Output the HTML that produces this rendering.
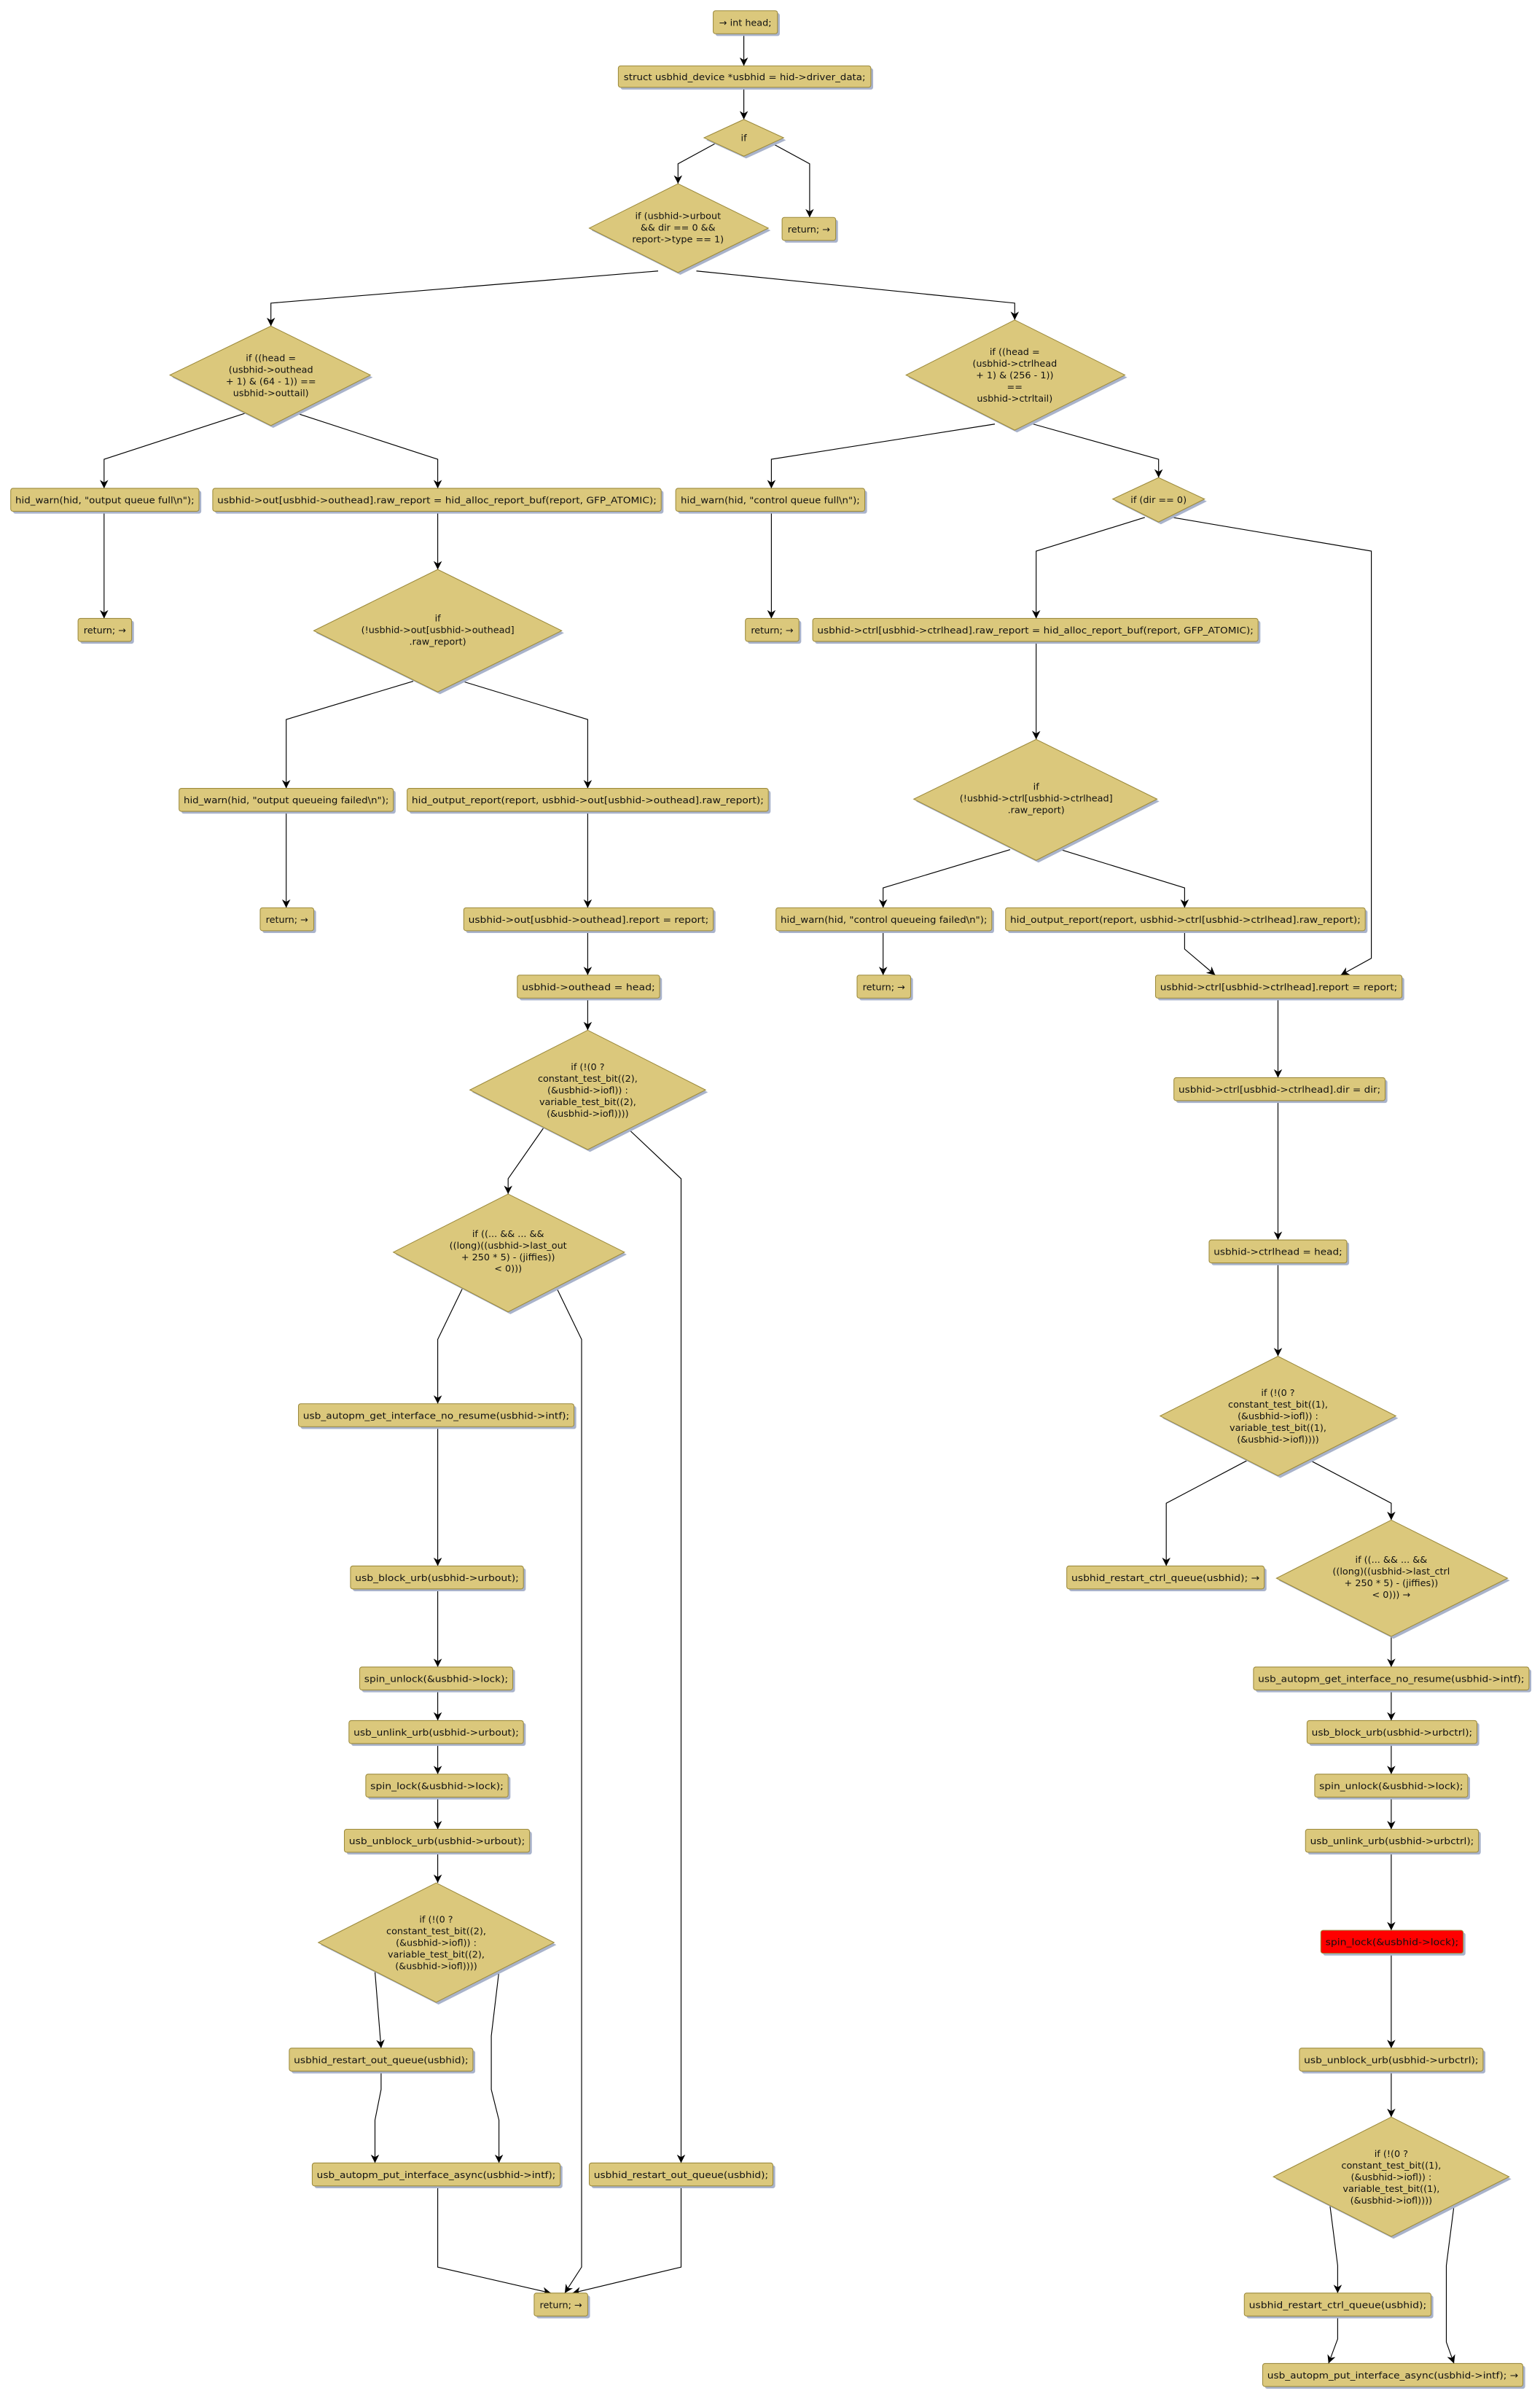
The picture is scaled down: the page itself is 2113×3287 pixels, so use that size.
<!DOCTYPE html>
<html><head><meta charset="utf-8"><style>
html,body{margin:0;padding:0;background:#fff;}
svg{display:block;}
text{font-family:"DejaVu Sans","Liberation Sans",sans-serif;font-size:6.1px;fill:#111;text-anchor:middle;}
.b{fill:#dbc87c;stroke:#9c8a3c;stroke-width:0.5;}
.r{fill:#ff0000;stroke:#9c8a3c;stroke-width:0.5;}
.s{fill:#a9b3cb;}
.e{fill:none;stroke:#000;stroke-width:0.55;marker-end:url(#a);}
</style></head><body>
<svg width="2113" height="3287" viewBox="0 0 1006.2 1565.2" xmlns="http://www.w3.org/2000/svg">
<defs><marker id="a" viewBox="0 0 10 10" refX="10" refY="5" markerWidth="5.5" markerHeight="5.5" markerUnits="userSpaceOnUse" orient="auto"><path d="M0,0 L10,5 L0,10 L3,5 z" fill="#000"/></marker></defs>

<path class="e" d="M486,22 L486,43"/>
<path class="e" d="M486,57 L486,78"/>
<path class="e" d="M476,89 L443,107 L443,120"/>
<path class="e" d="M496,89 L529,107 L529,142"/>
<path class="e" d="M430,177 L177,198 L177,213"/>
<path class="e" d="M455,177 L663,198 L663,209"/>
<path class="e" d="M160,270 L68,300 L68,319"/>
<path class="e" d="M194,270 L286,300 L286,319"/>
<path class="e" d="M650,277 L504,300 L504,319"/>
<path class="e" d="M675,277 L757,300 L757,312"/>
<path class="e" d="M68,334 L68,404"/>
<path class="e" d="M286,334 L286,372"/>
<path class="e" d="M504,334 L504,404"/>
<path class="e" d="M748,338 L677,360 L677,404"/>
<path class="e" d="M766,338 L896,360 L896,626 L876,637"/>
<path class="e" d="M270,445 L187,470 L187,515"/>
<path class="e" d="M302,445 L384,470 L384,515"/>
<path class="e" d="M677,419 L677,483"/>
<path class="e" d="M187,530 L187,593"/>
<path class="e" d="M384,530 L384,593"/>
<path class="e" d="M660,555 L577,580 L577,593"/>
<path class="e" d="M693,555 L774,580 L774,593"/>
<path class="e" d="M577,608 L577,637"/>
<path class="e" d="M384,608 L384,637"/>
<path class="e" d="M774,608 L774,620 L794,637"/>
<path class="e" d="M384,652 L384,673"/>
<path class="e" d="M835,652 L835,704"/>
<path class="e" d="M355,737 L332,770 L332,780"/>
<path class="e" d="M410,737 L445,770 L445,1413"/>
<path class="e" d="M302,842 L286,875 L286,917"/>
<path class="e" d="M364,842 L380,875 L380,1481 L369,1498"/>
<path class="e" d="M835,719 L835,810"/>
<path class="e" d="M835,825 L835,886"/>
<path class="e" d="M286,932 L286,1023"/>
<path class="e" d="M815,954 L762,982 L762,1023"/>
<path class="e" d="M856,954 L909,982 L909,993"/>
<path class="e" d="M909,1069 L909,1089"/>
<path class="e" d="M286,1038 L286,1089"/>
<path class="e" d="M909,1104 L909,1124"/>
<path class="e" d="M286,1104 L286,1124"/>
<path class="e" d="M909,1139 L909,1159"/>
<path class="e" d="M286,1139 L286,1159"/>
<path class="e" d="M909,1174 L909,1195"/>
<path class="e" d="M286,1174 L286,1195"/>
<path class="e" d="M909,1210 L909,1261"/>
<path class="e" d="M286,1210 L286,1230"/>
<path class="e" d="M245,1288 L249,1338"/>
<path class="e" d="M326,1288 L321,1330 L321,1365 L326,1385 L326,1413"/>
<path class="e" d="M909,1276 L909,1338"/>
<path class="e" d="M249,1353 L249,1365 L245,1385 L245,1413"/>
<path class="e" d="M909,1353 L909,1383"/>
<path class="e" d="M869,1441 L874,1480 L874,1498"/>
<path class="e" d="M950,1441 L945,1480 L945,1530 L950,1544"/>
<path class="e" d="M286,1428 L286,1481 L360,1498"/>
<path class="e" d="M445,1428 L445,1481 L374,1498"/>
<path class="e" d="M874,1514 L874,1528 L868,1544"/>

<g>
<rect class="s" x="467.5" y="8.5" width="42" height="15" rx="1.5"/><rect class="b" x="466" y="7" width="42" height="15" rx="1.5"/><text x="487" y="16.8">→ int head;</text>
<rect class="s" x="405.5" y="44.5" width="165" height="14" rx="1.5"/><rect class="b" x="404" y="43" width="165" height="14" rx="1.5"/><text x="486.5" y="52.3" textLength="158" lengthAdjust="spacingAndGlyphs">struct usbhid_device *usbhid = hid-&gt;driver_data;</text>
<rect class="s" x="512.5" y="143.5" width="35" height="15" rx="1.5"/><rect class="b" x="511" y="142" width="35" height="15" rx="1.5"/><text x="528.5" y="151.8">return; →</text>
<rect class="s" x="8.5" y="320.5" width="123" height="15" rx="1.5"/><rect class="b" x="7" y="319" width="123" height="15" rx="1.5"/><text x="68.5" y="328.8" textLength="117" lengthAdjust="spacingAndGlyphs">hid_warn(hid, "output queue full\n");</text>
<rect class="s" x="140.5" y="320.5" width="293" height="15" rx="1.5"/><rect class="b" x="139" y="319" width="293" height="15" rx="1.5"/><text x="285.5" y="328.8" textLength="287" lengthAdjust="spacingAndGlyphs">usbhid-&gt;out[usbhid-&gt;outhead].raw_report = hid_alloc_report_buf(report, GFP_ATOMIC);</text>
<rect class="s" x="443" y="320.5" width="123.5" height="15" rx="1.5"/><rect class="b" x="441.5" y="319" width="123.5" height="15" rx="1.5"/><text x="503.3" y="328.8" textLength="117" lengthAdjust="spacingAndGlyphs">hid_warn(hid, "control queue full\n");</text>
<rect class="s" x="52.5" y="405.5" width="35" height="15" rx="1.5"/><rect class="b" x="51" y="404" width="35" height="15" rx="1.5"/><text x="68.5" y="413.8">return; →</text>
<rect class="s" x="488.5" y="405.5" width="35" height="15" rx="1.5"/><rect class="b" x="487" y="404" width="35" height="15" rx="1.5"/><text x="504.5" y="413.8">return; →</text>
<rect class="s" x="532.5" y="405.5" width="291" height="15" rx="1.5"/><rect class="b" x="531" y="404" width="291" height="15" rx="1.5"/><text x="676.5" y="413.8" textLength="285" lengthAdjust="spacingAndGlyphs">usbhid-&gt;ctrl[usbhid-&gt;ctrlhead].raw_report = hid_alloc_report_buf(report, GFP_ATOMIC);</text>
<rect class="s" x="118.5" y="516.5" width="140" height="15" rx="1.5"/><rect class="b" x="117" y="515" width="140" height="15" rx="1.5"/><text x="187" y="524.8" textLength="134" lengthAdjust="spacingAndGlyphs">hid_warn(hid, "output queueing failed\n");</text>
<rect class="s" x="267.5" y="516.5" width="236" height="15" rx="1.5"/><rect class="b" x="266" y="515" width="236" height="15" rx="1.5"/><text x="384" y="524.8" textLength="230" lengthAdjust="spacingAndGlyphs">hid_output_report(report, usbhid-&gt;out[usbhid-&gt;outhead].raw_report);</text>
<rect class="s" x="171.5" y="594.5" width="35" height="15" rx="1.5"/><rect class="b" x="170" y="593" width="35" height="15" rx="1.5"/><text x="187.5" y="602.8">return; →</text>
<rect class="s" x="304.5" y="594.5" width="163" height="15" rx="1.5"/><rect class="b" x="303" y="593" width="163" height="15" rx="1.5"/><text x="384.5" y="602.8" textLength="157" lengthAdjust="spacingAndGlyphs">usbhid-&gt;out[usbhid-&gt;outhead].report = report;</text>
<rect class="s" x="508.5" y="594.5" width="141" height="15" rx="1.5"/><rect class="b" x="507" y="593" width="141" height="15" rx="1.5"/><text x="577.5" y="602.8" textLength="135" lengthAdjust="spacingAndGlyphs">hid_warn(hid, "control queueing failed\n");</text>
<rect class="s" x="658.5" y="594.5" width="235" height="15" rx="1.5"/><rect class="b" x="657" y="593" width="235" height="15" rx="1.5"/><text x="774.5" y="602.8" textLength="229" lengthAdjust="spacingAndGlyphs">hid_output_report(report, usbhid-&gt;ctrl[usbhid-&gt;ctrlhead].raw_report);</text>
<rect class="s" x="561.5" y="638.5" width="35" height="15" rx="1.5"/><rect class="b" x="560" y="637" width="35" height="15" rx="1.5"/><text x="577.5" y="646.8">return; →</text>
<rect class="s" x="339.5" y="638.5" width="93" height="15" rx="1.5"/><rect class="b" x="338" y="637" width="93" height="15" rx="1.5"/><text x="384.5" y="646.8" textLength="87" lengthAdjust="spacingAndGlyphs">usbhid-&gt;outhead = head;</text>
<rect class="s" x="756.5" y="638.5" width="161" height="15" rx="1.5"/><rect class="b" x="755" y="637" width="161" height="15" rx="1.5"/><text x="835.5" y="646.8" textLength="155" lengthAdjust="spacingAndGlyphs">usbhid-&gt;ctrl[usbhid-&gt;ctrlhead].report = report;</text>
<rect class="s" x="768.5" y="705.5" width="138" height="15" rx="1.5"/><rect class="b" x="767" y="704" width="138" height="15" rx="1.5"/><text x="836" y="713.8" textLength="132" lengthAdjust="spacingAndGlyphs">usbhid-&gt;ctrl[usbhid-&gt;ctrlhead].dir = dir;</text>
<rect class="s" x="791.5" y="811.5" width="90" height="15" rx="1.5"/><rect class="b" x="790" y="810" width="90" height="15" rx="1.5"/><text x="835" y="819.8" textLength="84" lengthAdjust="spacingAndGlyphs">usbhid-&gt;ctrlhead = head;</text>
<rect class="s" x="196.5" y="918.5" width="180" height="15" rx="1.5"/><rect class="b" x="195" y="917" width="180" height="15" rx="1.5"/><text x="285" y="926.8" textLength="174" lengthAdjust="spacingAndGlyphs">usb_autopm_get_interface_no_resume(usbhid-&gt;intf);</text>
<rect class="s" x="698.5" y="1024.5" width="129" height="15" rx="1.5"/><rect class="b" x="697" y="1023" width="129" height="15" rx="1.5"/><text x="761.5" y="1032.8" textLength="123" lengthAdjust="spacingAndGlyphs">usbhid_restart_ctrl_queue(usbhid); →</text>
<rect class="s" x="230.5" y="1024.5" width="113" height="15" rx="1.5"/><rect class="b" x="229" y="1023" width="113" height="15" rx="1.5"/><text x="285.5" y="1032.8" textLength="107" lengthAdjust="spacingAndGlyphs">usb_block_urb(usbhid-&gt;urbout);</text>
<rect class="s" x="820.5" y="1090.5" width="180" height="15" rx="1.5"/><rect class="b" x="819" y="1089" width="180" height="15" rx="1.5"/><text x="909" y="1098.8" textLength="174" lengthAdjust="spacingAndGlyphs">usb_autopm_get_interface_no_resume(usbhid-&gt;intf);</text>
<rect class="s" x="236.5" y="1090.5" width="100" height="15" rx="1.5"/><rect class="b" x="235" y="1089" width="100" height="15" rx="1.5"/><text x="285" y="1098.8" textLength="94" lengthAdjust="spacingAndGlyphs">spin_unlock(&amp;usbhid-&gt;lock);</text>
<rect class="s" x="229.5" y="1125.5" width="114" height="15" rx="1.5"/><rect class="b" x="228" y="1124" width="114" height="15" rx="1.5"/><text x="285" y="1133.8" textLength="108" lengthAdjust="spacingAndGlyphs">usb_unlink_urb(usbhid-&gt;urbout);</text>
<rect class="s" x="855.5" y="1125.5" width="111" height="15" rx="1.5"/><rect class="b" x="854" y="1124" width="111" height="15" rx="1.5"/><text x="909.5" y="1133.8" textLength="105" lengthAdjust="spacingAndGlyphs">usb_block_urb(usbhid-&gt;urbctrl);</text>
<rect class="s" x="240.5" y="1160.5" width="93" height="15" rx="1.5"/><rect class="b" x="239" y="1159" width="93" height="15" rx="1.5"/><text x="285.5" y="1168.8" textLength="87" lengthAdjust="spacingAndGlyphs">spin_lock(&amp;usbhid-&gt;lock);</text>
<rect class="s" x="860.5" y="1160.5" width="100" height="15" rx="1.5"/><rect class="b" x="859" y="1159" width="100" height="15" rx="1.5"/><text x="909" y="1168.8" textLength="94" lengthAdjust="spacingAndGlyphs">spin_unlock(&amp;usbhid-&gt;lock);</text>
<rect class="s" x="226.5" y="1196.5" width="121" height="15" rx="1.5"/><rect class="b" x="225" y="1195" width="121" height="15" rx="1.5"/><text x="285.5" y="1204.8" textLength="115" lengthAdjust="spacingAndGlyphs">usb_unblock_urb(usbhid-&gt;urbout);</text>
<rect class="s" x="854.5" y="1196.5" width="113" height="15" rx="1.5"/><rect class="b" x="853" y="1195" width="113" height="15" rx="1.5"/><text x="909.5" y="1204.8" textLength="107" lengthAdjust="spacingAndGlyphs">usb_unlink_urb(usbhid-&gt;urbctrl);</text>
<rect class="s" x="864.5" y="1262.5" width="93" height="15" rx="1.5"/><rect class="r" x="863" y="1261" width="93" height="15" rx="1.5"/><text x="909.5" y="1270.8" textLength="87" lengthAdjust="spacingAndGlyphs">spin_lock(&amp;usbhid-&gt;lock);</text>
<rect class="s" x="190.5" y="1339.5" width="120" height="15" rx="1.5"/><rect class="b" x="189" y="1338" width="120" height="15" rx="1.5"/><text x="249" y="1347.8" textLength="114" lengthAdjust="spacingAndGlyphs">usbhid_restart_out_queue(usbhid);</text>
<rect class="s" x="850.5" y="1339.5" width="120" height="15" rx="1.5"/><rect class="b" x="849" y="1338" width="120" height="15" rx="1.5"/><text x="909" y="1347.8" textLength="114" lengthAdjust="spacingAndGlyphs">usb_unblock_urb(usbhid-&gt;urbctrl);</text>
<rect class="s" x="205.5" y="1414.5" width="162" height="15" rx="1.5"/><rect class="b" x="204" y="1413" width="162" height="15" rx="1.5"/><text x="285" y="1422.8" textLength="156" lengthAdjust="spacingAndGlyphs">usb_autopm_put_interface_async(usbhid-&gt;intf);</text>
<rect class="s" x="386.5" y="1414.5" width="120" height="15" rx="1.5"/><rect class="b" x="385" y="1413" width="120" height="15" rx="1.5"/><text x="445" y="1422.8" textLength="114" lengthAdjust="spacingAndGlyphs">usbhid_restart_out_queue(usbhid);</text>
<rect class="s" x="350.5" y="1499.5" width="35" height="15" rx="1.5"/><rect class="b" x="349" y="1498" width="35" height="15" rx="1.5"/><text x="366.5" y="1507.8">return; →</text>
<rect class="s" x="814.5" y="1499.5" width="122" height="15" rx="1.5"/><rect class="b" x="813" y="1498" width="122" height="15" rx="1.5"/><text x="874" y="1507.8" textLength="116" lengthAdjust="spacingAndGlyphs">usbhid_restart_ctrl_queue(usbhid);</text>
<rect class="s" x="826.5" y="1545.5" width="170" height="15" rx="1.5"/><rect class="b" x="825" y="1544" width="170" height="15" rx="1.5"/><text x="910" y="1553.8" textLength="164" lengthAdjust="spacingAndGlyphs">usb_autopm_put_interface_async(usbhid-&gt;intf); →</text>
</g>

<g>
<polygon class="s" points="487.5,79.5 513.5,91.5 487.5,103.5 461.5,91.5"/><polygon class="b" points="486,78 512,90 486,102 460,90"/><text x="486" y="92.2">if</text>

<polygon class="s" points="444.5,121.5 503.5,150.5 444.5,179.5 386.5,150.5"/><polygon class="b" points="443,120 502,149 443,178 385,149"/>
<text x="443" y="143">if (usbhid-&gt;urbout</text><text x="443" y="150.6">&amp;&amp; dir == 0 &amp;&amp;</text><text x="443" y="158.2">report-&gt;type == 1)</text>

<polygon class="s" points="178.5,214.5 243.5,246.5 178.5,279.5 112.5,246.5"/><polygon class="b" points="177,213 242,245 177,278 111,245"/>
<text x="177" y="236">if ((head =</text><text x="177" y="243.6">(usbhid-&gt;outhead</text><text x="177" y="251.2">+ 1) &amp; (64 - 1)) ==</text><text x="177" y="258.8">usbhid-&gt;outtail)</text>

<polygon class="s" points="664.5,210.5 736.5,246.5 664.5,282.5 593.5,246.5"/><polygon class="b" points="663,209 735,245 663,281 592,245"/>
<text x="663" y="232">if ((head =</text><text x="663" y="239.6">(usbhid-&gt;ctrlhead</text><text x="663" y="247.2">+ 1) &amp; (256 - 1))</text><text x="663" y="254.8">==</text><text x="663" y="262.4">usbhid-&gt;ctrltail)</text>

<polygon class="s" points="758.5,313.5 788.5,327.5 758.5,342.5 728.5,327.5"/><polygon class="b" points="757,312 787,326 757,341 727,326"/><text x="757" y="328.5">if (dir == 0)</text>

<polygon class="s" points="287.5,373.5 368.5,413.5 287.5,453.5 206.5,413.5"/><polygon class="b" points="286,372 367,412 286,452 205,412"/>
<text x="286" y="406">if</text><text x="286" y="413.6">(!usbhid-&gt;out[usbhid-&gt;outhead]</text><text x="286" y="421.2">.raw_report)</text>

<polygon class="s" points="678.5,484.5 757.5,523.5 678.5,563.5 598.5,523.5"/><polygon class="b" points="677,483 756,522 677,562 597,522"/>
<text x="677" y="516">if</text><text x="677" y="523.6">(!usbhid-&gt;ctrl[usbhid-&gt;ctrlhead]</text><text x="677" y="531.2">.raw_report)</text>

<polygon class="s" points="385.5,674.5 462.5,713.5 385.5,752.5 308.5,713.5"/><polygon class="b" points="384,673 461,712 384,751 307,712"/>
<text x="384" y="699">if (!(0 ?</text><text x="384" y="706.6">constant_test_bit((2),</text><text x="384" y="714.2">(&amp;usbhid-&gt;iofl)) :</text><text x="384" y="721.8">variable_test_bit((2),</text><text x="384" y="729.4">(&amp;usbhid-&gt;iofl))))</text>

<polygon class="s" points="333.5,781.5 409.5,819.5 333.5,858.5 258.5,819.5"/><polygon class="b" points="332,780 408,818 332,857 257,818"/>
<text x="332" y="808">if ((... &amp;&amp; ... &amp;&amp;</text><text x="332" y="815.6">((long)((usbhid-&gt;last_out</text><text x="332" y="823.2">+ 250 * 5) - (jiffies))</text><text x="332" y="830.8">&lt; 0)))</text>

<polygon class="s" points="836.5,887.5 913.5,926.5 836.5,965.5 759.5,926.5"/><polygon class="b" points="835,886 912,925 835,964 758,925"/>
<text x="835" y="912">if (!(0 ?</text><text x="835" y="919.6">constant_test_bit((1),</text><text x="835" y="927.2">(&amp;usbhid-&gt;iofl)) :</text><text x="835" y="934.8">variable_test_bit((1),</text><text x="835" y="942.4">(&amp;usbhid-&gt;iofl))))</text>

<polygon class="s" points="910.5,994.5 986.5,1032.5 910.5,1070.5 835.5,1032.5"/><polygon class="b" points="909,993 985,1031 909,1069 834,1031"/>
<text x="909" y="1021">if ((... &amp;&amp; ... &amp;&amp;</text><text x="909" y="1028.6">((long)((usbhid-&gt;last_ctrl</text><text x="909" y="1036.2">+ 250 * 5) - (jiffies))</text><text x="909" y="1043.8">&lt; 0))) →</text>

<polygon class="s" points="286.5,1231.5 363.5,1270.5 286.5,1309.5 209.5,1270.5"/><polygon class="b" points="285,1230 362,1269 285,1308 208,1269"/>
<text x="285" y="1256">if (!(0 ?</text><text x="285" y="1263.6">constant_test_bit((2),</text><text x="285" y="1271.2">(&amp;usbhid-&gt;iofl)) :</text><text x="285" y="1278.8">variable_test_bit((2),</text><text x="285" y="1286.4">(&amp;usbhid-&gt;iofl))))</text>

<polygon class="s" points="910.5,1384.5 987.5,1423.5 910.5,1462.5 833.5,1423.5"/><polygon class="b" points="909,1383 986,1422 909,1461 832,1422"/>
<text x="909" y="1409">if (!(0 ?</text><text x="909" y="1416.6">constant_test_bit((1),</text><text x="909" y="1424.2">(&amp;usbhid-&gt;iofl)) :</text><text x="909" y="1431.8">variable_test_bit((1),</text><text x="909" y="1439.4">(&amp;usbhid-&gt;iofl))))</text>
</g>
</svg>
</body></html>
